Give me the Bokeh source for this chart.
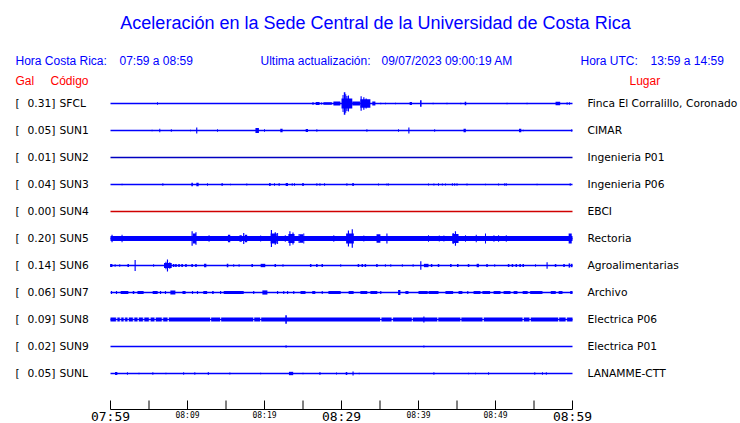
from bokeh.plotting import figure
from bokeh.models import Range1d
from bokeh.embed import file_html
from bokeh.resources import INLINE
from bokeh.core.properties import value

# ---------------- data ----------------
title = "Aceleración en la Sede Central de la Universidad de Costa Rica"
hdr_cr_label = "Hora Costa Rica:"
hdr_cr_value = "07:59 a 08:59"
hdr_upd_label = "Ultima actualización:"
hdr_upd_value = "09/07/2023 09:00:19 AM"
hdr_utc_label = "Hora UTC:"
hdr_utc_value = "13:59 a 14:59"
col_gal = "Gal"
col_code = "Código"
col_place = "Lugar"

codes = ["SFCL", "SUN1", "SUN2", "SUN3", "SUN4", "SUN5", "SUN6", "SUN7", "SUN8", "SUN9", "SUNL"]
places = ["Finca El Corralillo, Coronado", "CIMAR", "Ingenieria P01", "Ingenieria P06", "EBCI",
          "Rectoria", "Agroalimentarias", "Archivo", "Electrica P06", "Electrica P01", "LANAMME-CTT"]
peak_gal = [0.31, 0.05, 0.01, 0.04, 0.00, 0.20, 0.14, 0.06, 0.09, 0.02, 0.05]
# continuous background noise half-amplitude (Gal)
noise_gal = [0, 0, 0, 0, 0, 0.06, 0, 0, 0.05, 0, 0]

# time axis (minutes after 07:59)
tick_minutes = [0, 5, 10, 15, 20, 25, 30, 35, 40, 45, 50, 55, 60]
big_tick_minutes = [0, 30, 60]
big_tick_labels = ["07:59", "08:29", "08:59"]
small_tick_minutes = [10, 20, 40, 50]
small_tick_labels = ["08:09", "08:19", "08:39", "08:49"]

# events: (minute, half-amplitude in Gal, duration in minutes)
SFCL_ev = [(6.1, 0.03, 0.13), (26.3, 0.035, 0.13), (26.9, 0.036, 0.5), (27.4, 0.025, 0.13),
           (28.2, 0.03, 1.1), (29.4, 0.045, 0.9), (30.7, 0.12, 1.4), (30.2, 0.2, 0.13),
           (30.4, 0.27, 0.2), (30.55, 0.22, 0.13), (30.7, 0.18, 0.15), (30.9, 0.19, 0.15),
           (31.2, 0.1, 0.15), (31.9, 0.045, 1.0), (33.1, 0.1, 1.3), (32.55, 0.17, 0.15),
           (32.9, 0.15, 0.15), (33.2, 0.12, 0.15), (33.5, 0.08, 0.15), (34.2, 0.045, 0.4),
           (35.1, 0.02, 0.13), (35.7, 0.02, 0.13), (37.0, 0.02, 0.13), (39.0, 0.035, 0.3),
           (40.3, 0.08, 0.2), (41.9, 0.02, 0.13), (43.7, 0.02, 0.13), (45.5, 0.02, 0.13),
           (46.1, 0.04, 0.2), (51.5, 0.02, 0.13), (54.1, 0.015, 0.13), (58.1, 0.04, 0.6),
           (59.3, 0.03, 0.13), (59.6, 0.03, 0.13)]
SUN1_ev = [(5.4, 0.02, 0.13), (6.4, 0.04, 0.13), (7.9, 0.03, 0.13), (10.4, 0.02, 0.13),
           (11.2, 0.07, 0.15), (13.9, 0.03, 0.13), (19.05, 0.06, 0.45), (20.0, 0.03, 0.13),
           (22.2, 0.04, 0.3), (25.5, 0.035, 0.3), (26.8, 0.03, 0.13), (33.3, 0.03, 0.13),
           (37.4, 0.03, 0.13), (38.75, 0.07, 0.15), (42.1, 0.03, 0.13), (46.0, 0.04, 0.3),
           (53.2, 0.04, 0.3), (53.6, 0.02, 0.13), (59.9, 0.03, 0.13)]
SUN2_ev = []
SUN3_ev = [(1.5, 0.02, 0.13), (6.8, 0.03, 0.13), (10.6, 0.04, 0.2), (11.3, 0.04, 0.3),
           (12.6, 0.03, 0.13), (14.5, 0.03, 0.2), (15.6, 0.02, 0.13), (17.7, 0.025, 0.13),
           (20.7, 0.035, 0.2), (21.3, 0.03, 0.13), (21.9, 0.035, 0.13), (22.9, 0.035, 0.3),
           (23.6, 0.03, 0.13), (23.9, 0.03, 0.13), (25.0, 0.035, 0.2), (26.8, 0.03, 0.13),
           (27.2, 0.03, 0.13), (27.8, 0.03, 0.13), (30.7, 0.03, 0.13), (31.5, 0.035, 0.2),
           (34.8, 0.025, 0.13), (35.9, 0.025, 0.13), (36.1, 0.025, 0.13), (41.3, 0.025, 0.13),
           (42.0, 0.025, 0.13), (42.6, 0.03, 0.13), (43.1, 0.025, 0.13), (43.5, 0.025, 0.13),
           (44.4, 0.03, 0.13), (44.7, 0.03, 0.13), (45.0, 0.03, 0.13), (46.3, 0.025, 0.13),
           (48.7, 0.02, 0.13), (50.4, 0.025, 0.13), (51.2, 0.03, 0.13), (51.4, 0.03, 0.13),
           (55.4, 0.02, 0.13), (59.7, 0.03, 0.13)]
SUN4_ev = []
SUN5_ev = [(0.2, 0.09, 0.15), (1.5, 0.09, 0.13), (10.6, 0.17, 0.15), (10.9, 0.12, 0.4),
           (11.1, 0.15, 0.15), (12.8, 0.08, 0.13), (15.4, 0.09, 0.3), (16.9, 0.08, 0.3),
           (17.3, 0.13, 0.15), (17.6, 0.09, 0.3), (19.5, 0.07, 0.13), (20.9, 0.2, 0.15),
           (21.2, 0.12, 0.8), (21.4, 0.15, 0.15), (21.7, 0.13, 0.13), (22.7, 0.08, 0.13),
           (23.3, 0.17, 0.15), (23.5, 0.11, 0.8), (23.7, 0.14, 0.15), (24.5, 0.11, 0.15),
           (24.8, 0.1, 0.4), (25.1, 0.12, 0.13), (29.0, 0.08, 0.13), (30.9, 0.19, 0.15),
           (31.1, 0.12, 1.0), (31.4, 0.22, 0.15), (32.9, 0.07, 0.13), (34.8, 0.1, 0.5),
           (35.9, 0.12, 0.15), (41.3, 0.08, 0.13), (42.7, 0.07, 0.13), (43.3, 0.07, 0.13),
           (44.5, 0.13, 0.15), (44.8, 0.17, 0.15), (44.8, 0.11, 0.8), (46.1, 0.08, 0.13),
           (47.5, 0.09, 0.13), (48.7, 0.12, 0.13), (49.8, 0.08, 0.13), (50.4, 0.08, 0.13),
           (51.4, 0.08, 0.13), (59.7, 0.12, 0.4)]
SUN6_ev = [(0.1, 0.035, 0.3), (0.6, 0.03, 0.13), (1.2, 0.03, 0.13), (2.3, 0.035, 0.2),
           (3.2, 0.13, 0.15), (5.6, 0.03, 0.13), (7.4, 0.14, 0.15), (7.45, 0.06, 1.0),
           (7.2, 0.09, 0.13), (7.7, 0.08, 0.13), (8.2, 0.035, 0.2), (8.5, 0.035, 0.2),
           (8.9, 0.035, 0.2), (9.3, 0.035, 0.2), (9.8, 0.035, 0.2), (10.6, 0.035, 0.2),
           (11.1, 0.035, 0.2), (12.3, 0.04, 0.3), (15.2, 0.04, 0.2), (16.0, 0.03, 0.13),
           (16.7, 0.03, 0.13), (18.4, 0.035, 0.2), (19.8, 0.04, 0.6), (21.4, 0.035, 0.2),
           (22.4, 0.03, 0.13), (26.0, 0.035, 0.2), (26.8, 0.035, 0.2), (27.5, 0.035, 0.2),
           (29.9, 0.03, 0.13), (32.2, 0.035, 0.2), (32.7, 0.035, 0.2), (33.1, 0.035, 0.2),
           (34.6, 0.035, 0.2), (35.7, 0.03, 0.13), (36.4, 0.03, 0.13), (37.9, 0.03, 0.13),
           (39.3, 0.03, 0.13), (40.3, 0.1, 0.15), (41.0, 0.04, 0.6), (41.7, 0.035, 0.2),
           (42.6, 0.035, 0.2), (44.2, 0.035, 0.2), (45.1, 0.035, 0.2), (46.5, 0.035, 0.2),
           (47.7, 0.04, 0.3), (48.9, 0.035, 0.2), (49.9, 0.03, 0.13), (51.7, 0.035, 0.2),
           (52.2, 0.035, 0.2), (52.7, 0.035, 0.2), (53.2, 0.035, 0.2), (53.6, 0.035, 0.2),
           (55.2, 0.03, 0.13), (56.7, 0.08, 0.15), (57.8, 0.035, 0.2), (58.9, 0.035, 0.2),
           (59.6, 0.05, 0.2), (59.9, 0.04, 0.2)]
SUN7_ev = [(0.13, 0.035, 0.15), (0.78, 0.035, 0.15), (1.82, 0.035, 1.0), (2.99, 0.035, 0.2),
           (3.9, 0.035, 0.8), (5.8, 0.035, 0.65), (6.5, 0.035, 0.15), (7.14, 0.035, 0.15),
           (8.1, 0.05, 0.65), (9.55, 0.035, 0.4), (10.65, 0.035, 0.15), (11.3, 0.035, 0.15),
           (12.3, 0.035, 0.5), (13.3, 0.035, 0.2), (14.3, 0.035, 0.15), (16.0, 0.035, 2.6),
           (18.6, 0.035, 0.15), (20.05, 0.05, 0.65), (21.7, 0.035, 0.15), (22.5, 0.035, 0.15),
           (23.0, 0.035, 0.15), (23.8, 0.035, 0.15), (25.0, 0.035, 0.65), (26.4, 0.035, 0.4),
           (27.5, 0.035, 0.15), (29.1, 0.035, 1.6), (31.25, 0.035, 0.65), (32.9, 0.035, 0.9),
           (34.2, 0.035, 0.9), (35.1, 0.035, 0.15), (37.5, 0.06, 0.3), (38.5, 0.035, 0.4),
           (40.6, 0.035, 1.2), (41.95, 0.035, 1.3), (44.0, 0.035, 1.0), (45.45, 0.035, 0.5),
           (46.4, 0.035, 0.15), (47.6, 0.035, 0.9), (48.8, 0.035, 1.0), (50.2, 0.035, 0.9),
           (51.5, 0.035, 0.9), (52.6, 0.035, 0.5), (53.85, 0.035, 0.65), (55.3, 0.035, 1.6),
           (57.5, 0.035, 0.65), (58.45, 0.035, 0.5), (59.85, 0.035, 0.3)]
SUN8_ev = [(22.8, 0.1, 0.2), (40.7, 0.07, 0.15)]
SUN9_ev = [(22.8, 0.03, 0.13), (40.7, 0.025, 0.13)]
SUNL_ev = [(0.74, 0.035, 0.3), (2.2, 0.03, 0.13), (3.7, 0.02, 0.13), (5.5, 0.03, 0.13),
           (7.2, 0.02, 0.13), (9.5, 0.03, 0.13), (10.95, 0.03, 0.13), (12.7, 0.035, 0.13),
           (15.5, 0.025, 0.13), (19.5, 0.02, 0.13), (23.45, 0.04, 0.55), (25.0, 0.02, 0.13),
           (27.2, 0.035, 0.13), (29.35, 0.025, 0.13), (30.65, 0.035, 0.2), (31.5, 0.05, 0.15),
           (32.3, 0.02, 0.13), (42.0, 0.03, 0.13), (46.5, 0.02, 0.13), (47.4, 0.02, 0.13),
           (49.1, 0.03, 0.13), (55.1, 0.03, 0.13), (56.1, 0.03, 0.13), (56.6, 0.03, 0.13)]
events = [SFCL_ev, SUN1_ev, SUN2_ev, SUN3_ev, SUN4_ev, SUN5_ev, SUN6_ev, SUN7_ev, SUN8_ev, SUN9_ev, SUNL_ev]
# quiet (thin) stretches within the SUN8 noise band: (minute, duration)
SUN8_gaps = [(0.8, 0.2), (1.3, 0.2), (1.8, 0.2), (2.3, 0.2), (3.0, 0.2), (3.6, 0.2), (4.3, 0.2),
             (5.1, 0.25), (5.8, 0.2), (6.75, 0.2), (7.5, 0.2), (13.0, 0.15), (14.3, 0.15),
             (18.6, 0.15), (19.5, 0.15), (35.1, 0.2), (36.6, 0.2), (39.2, 0.15), (42.5, 0.15),
             (45.5, 0.15), (48.4, 0.2), (53.6, 0.2), (54.5, 0.2), (58.2, 0.15), (59.2, 0.2)]

# ---------------- styling / layout ----------------
BLUE = "#0000ff"
RED = "#ff0000"
trace_colors = [BLUE, BLUE, "#0000c0", BLUE, "#d00000", BLUE, BLUE, BLUE, BLUE, BLUE, BLUE]

W, H = 740, 423
PX0 = 110.0          # canvas x of minute 0
PPM = 462.0 / 60.0   # pixels per minute
ROW0 = 103.0         # canvas y of first trace
ROWPX = 27.0         # pixels between traces
GAIN = 42.0 / ROWPX  # rows per Gal


def X(cx):
    return (cx - PX0) / PPM


def Y(cy):
    return (cy - ROW0) / ROWPX


p = figure(width=W, height=H, output_backend="svg", toolbar_location=None,
           x_axis_type=None, y_axis_type=None, min_border=0,
           x_range=Range1d(X(0), X(W)), y_range=Range1d(Y(H), Y(0)))
p.outline_line_color = None
p.background_fill_color = "white"
p.border_fill_color = "white"

n = len(codes)
T_END = tick_minutes[-1]

# continuous noise bands
bl, br, bt, bb, bc = [], [], [], [], []
for i in range(n):
    if noise_gal[i] > 0:
        bl.append(0); br.append(T_END)
        bt.append(i - noise_gal[i] * GAIN); bb.append(i + noise_gal[i] * GAIN)
        bc.append(trace_colors[i])
p.quad(left=bl, right=br, top=bt, bottom=bb, fill_color=bc, line_color=None)

# quiet stretches in SUN8
i8 = codes.index("SUN8")
p.quad(left=[t - d / 2 for t, d in SUN8_gaps], right=[t + d / 2 for t, d in SUN8_gaps],
       top=[i8 - noise_gal[i8] * GAIN - 0.01] * len(SUN8_gaps),
       bottom=[i8 + noise_gal[i8] * GAIN + 0.01] * len(SUN8_gaps),
       fill_color="white", line_color=None)

# baselines
p.segment(x0=[0] * n, x1=[T_END] * n, y0=list(range(n)), y1=list(range(n)),
          line_color=trace_colors, line_width=1.3)

# events
el, er, et, eb, ec = [], [], [], [], []
for i, ev in enumerate(events):
    for t, a, d in ev:
        el.append(t - d / 2); er.append(t + d / 2)
        et.append(i - a * GAIN); eb.append(i + a * GAIN)
        ec.append(trace_colors[i])
p.quad(left=el, right=er, top=et, bottom=eb, fill_color=ec, line_color=None)

# time axis
AX = Y(409)
TICK_H = 9 / ROWPX
p.segment(x0=[0], x1=[T_END], y0=[AX], y1=[AX], line_color="black", line_width=1)
p.segment(x0=tick_minutes, x1=tick_minutes, y0=[AX] * len(tick_minutes),
          y1=[AX - TICK_H] * len(tick_minutes), line_color="black", line_width=1)
p.text(x=big_tick_minutes, y=[Y(416)] * 3, text=big_tick_labels,
       text_font=value("DejaVu Sans Mono"), text_font_size=value("13px"),
       text_align="center", text_baseline="middle", text_color="black")
p.text(x=small_tick_minutes, y=[Y(414.5)] * 4, text=small_tick_labels,
       text_font=value("DejaVu Sans Mono"), text_font_size=value("8px"),
       text_align="center", text_baseline="middle", text_color="black")

# title and header texts
SANS = value("Liberation Sans")
p.text(x=[X(375)], y=[Y(22)], text=[title], text_font=SANS, text_font_size=value("18px"),
       text_align="center", text_baseline="middle", text_color=BLUE)
p.text(x=[X(15), X(119), X(260), X(381), X(580), X(650)], y=[Y(60)] * 6,
       text=[hdr_cr_label, hdr_cr_value, hdr_upd_label, hdr_upd_value, hdr_utc_label, hdr_utc_value],
       text_font=SANS, text_font_size=value("12px"), text_align="left", text_baseline="middle",
       text_color=BLUE)
p.text(x=[X(15), X(50), X(629)], y=[Y(80)] * 3, text=[col_gal, col_code, col_place],
       text_font=SANS, text_font_size=value("12px"), text_align="left", text_baseline="middle",
       text_color=RED)

# station labels
DJ = value("DejaVu Sans")
FS = value("10.7px")
rows = list(range(n))
p.text(x=[X(15)] * n, y=rows, text=["["] * n, text_font=DJ, text_font_size=FS,
       text_align="left", text_baseline="middle", text_color="black")
p.text(x=[X(55)] * n, y=rows, text=[f"{g:.2f}]" for g in peak_gal], text_font=DJ,
       text_font_size=FS, text_align="right", text_baseline="middle", text_color="black")
p.text(x=[X(59)] * n, y=rows, text=codes, text_font=DJ, text_font_size=FS,
       text_align="left", text_baseline="middle", text_color="black")
p.text(x=[X(587)] * n, y=rows, text=places, text_font=DJ, text_font_size=FS,
       text_align="left", text_baseline="middle", text_color="black")

open("out.html", "w").write(file_html(p, INLINE))
